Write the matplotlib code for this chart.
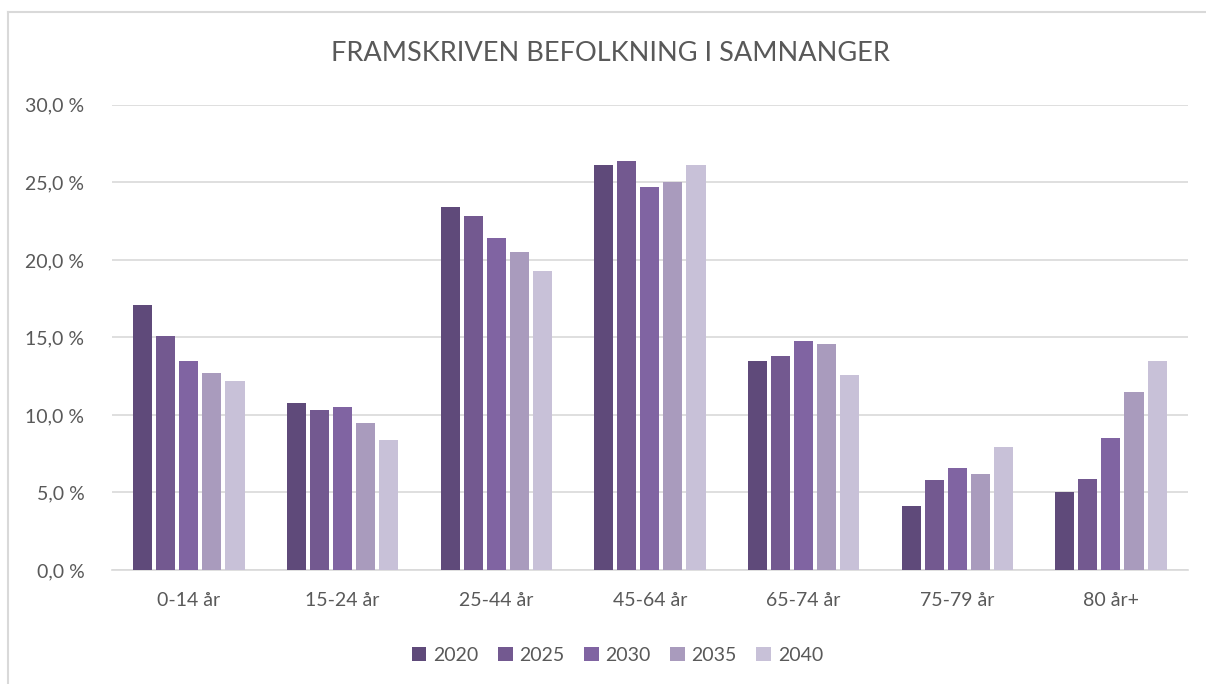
import numpy as np
import matplotlib
matplotlib.use("Agg")
import matplotlib.pyplot as plt
from matplotlib.lines import Line2D
from matplotlib.ticker import FuncFormatter

# data (share of population, %)
categories = ["0-14 år", "15-24 år", "25-44 år", "45-64 år", "65-74 år", "75-79 år", "80 år+"]
years = ["2020", "2025", "2030", "2035", "2040"]
v2020 = [17.1, 10.8, 23.4, 26.1, 13.5, 4.1, 5.0]
v2025 = [15.1, 10.3, 22.8, 26.4, 13.8, 5.8, 5.9]
v2030 = [13.5, 10.5, 21.4, 24.7, 14.8, 6.6, 8.5]
v2035 = [12.7, 9.5, 20.5, 25.0, 14.6, 6.2, 11.5]
v2040 = [12.2, 8.4, 19.3, 26.1, 12.6, 7.9, 13.5]
series = [v2020, v2025, v2030, v2035, v2040]
colors = ["#5F4A7A", "#735990", "#8064A2", "#A99BBD", "#C8C1D8"]

plt.rcParams['font.family'] = ['Lato', 'DejaVu Sans']
txt = "#595959"

fig = plt.figure(figsize=(12.06, 6.84), dpi=100)
ax = fig.add_axes([0.0929, 0.1667, 0.892, 0.68])

# chart frame (only top and left edges visible)
fy = 1 - 12/684
fx = 8/1206
fig.lines.append(Line2D([fx, 1.0], [fy, fy], transform=fig.transFigure, color="#D9D9D9", lw=1.5))
fig.lines.append(Line2D([fx, fx], [0, fy], transform=fig.transFigure, color="#D9D9D9", lw=1.5))

x = np.arange(len(categories))
w = 0.124
step = 0.15
for i, (vals, c) in enumerate(zip(series, colors)):
    ax.bar(x + (i - 2) * step, vals, width=w, color=c, label=years[i], zorder=3)

ax.set_ylim(0, 30)
ax.set_xlim(-0.5, len(categories) - 0.5)
ax.set_yticks(np.arange(0, 31, 5))
ax.yaxis.set_major_formatter(FuncFormatter(lambda v, p: f"{v:.1f} %".replace(".", ",")))
ax.grid(axis="y", color="#D9D9D9", linewidth=1.2, zorder=0)
ax.set_xticks(x)
ax.set_xticklabels(categories)
for s in ["top", "right", "left"]:
    ax.spines[s].set_visible(False)
ax.spines["bottom"].set_color("#D9D9D9")
ax.spines["bottom"].set_linewidth(1.2)
ax.tick_params(axis="both", length=0, labelsize=14, colors=txt)
ax.tick_params(axis="x", pad=16)
ax.tick_params(axis="y", pad=20)

fig.text(0.506, 0.922, "FRAMSKRIVEN BEFOLKNING I SAMNANGER", ha="center", va="center",
         fontsize=19.5, color=txt)

fig.legend(loc="center", bbox_to_anchor=(0.512, 0.042), ncol=5, frameon=False,
           fontsize=14, labelcolor=txt, handlelength=0.75, handleheight=0.75,
           handletextpad=0.35, columnspacing=1.0)

fig.savefig("out.png", dpi=100)
